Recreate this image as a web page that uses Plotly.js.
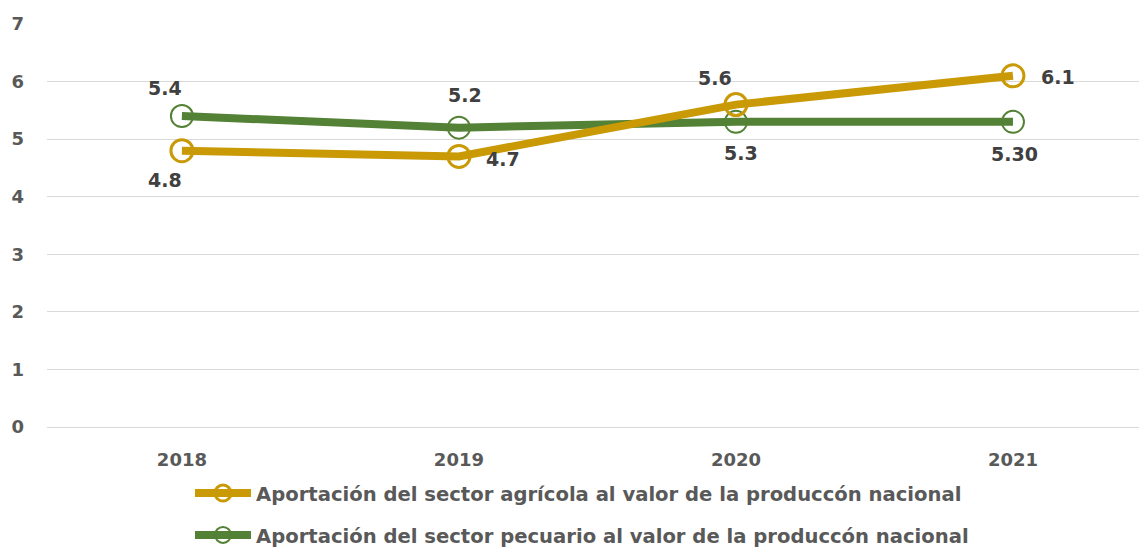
<!DOCTYPE html>
<html>
<head>
<meta charset="utf-8">
<script src="https://cdn.plot.ly/plotly-3.0.1.min.js"></script>
<style>html,body{margin:0;padding:0;background:#fff;}#chart{width:1139px;height:550px;}</style>
</head>
<body>
<div id="chart"></div>
<script>
const years = ["2018", "2019", "2020", "2021"];
const agricola = [4.8, 4.7, 5.6, 6.1];
const pecuario = [5.4, 5.2, 5.3, 5.3];
const agricolaLabels = ["4.8", "4.7", "5.6", "6.1"];
const pecuarioLabels = ["5.4", "5.2", "5.3", "5.30"];
const seriesNames = [
  "Aportación del sector agrícola al valor de la produccón nacional",
  "Aportación del sector pecuario al valor de la produccón nacional"
];
const yTicks = [0, 1, 2, 3, 4, 5, 6, 7];

const gold = "#C99A06";
const green = "#538135";
const FONT = "DejaVu Sans, sans-serif";

const agrShift = [[-17, -29], [44, -3], [-21, 27], [45, -1]];
const pecShift = [[-17, 28], [6, 33], [5, -31], [2, -32]];

const traces = [
  {
    x: years, y: pecuario, name: seriesNames[1], type: "scatter", mode: "lines+markers",
    line: {color: green, width: 8},
    marker: {symbol: "circle-open", size: 22, color: green, line: {width: 2, color: green}},
    legend: "legend2"
  },
  {
    x: years, y: agricola, name: seriesNames[0], type: "scatter", mode: "lines+markers",
    line: {color: gold, width: 8},
    marker: {symbol: "circle-open", size: 22, color: gold, line: {width: 3, color: gold}},
    legend: "legend"
  }
];

const labelFont = {family: FONT, size: 19, color: "#404040", weight: 700};
const annotations = [];
years.forEach((yr, i) => {
  annotations.push({xref: "x", yref: "y", x: i, y: agricola[i], text: agricolaLabels[i], showarrow: false,
    xanchor: "center", yanchor: "middle",
    xshift: agrShift[i][0], yshift: agrShift[i][1], font: labelFont});
  annotations.push({xref: "x", yref: "y", x: i, y: pecuario[i], text: pecuarioLabels[i], showarrow: false,
    xanchor: "center", yanchor: "middle",
    xshift: pecShift[i][0], yshift: pecShift[i][1], font: labelFont});
});

const legendFont = {family: FONT, size: 19.6, color: "#595959", weight: 700};

const layout = {
  width: 1139, height: 550,
  margin: {l: 47, r: 0, t: 24, b: 123},
  paper_bgcolor: "#fff", plot_bgcolor: "#fff",
  xaxis: {
    type: "category", range: [-0.487, 3.455],
    showgrid: false, zeroline: false, showline: false, ticks: "",
    tickfont: {family: FONT, size: 18, color: "#595959", weight: 700},
    ticklabelstandoff: 20
  },
  yaxis: {
    range: [0, 7], tickvals: yTicks, ticktext: yTicks.map(String),
    showgrid: true, gridcolor: "#d9d9d9", gridwidth: 1,
    zeroline: true, zerolinecolor: "#d9d9d9", zerolinewidth: 1,
    showline: false, ticks: "",
    tickfont: {family: FONT, size: 18, color: "#595959", weight: 700},
    ticklabelstandoff: 22
  },
  legend: {
    xref: "container", yref: "container",
    x: 0.1668, y: 0.103, xanchor: "left", yanchor: "middle", orientation: "h",
    itemwidth: 56, font: legendFont, bgcolor: "rgba(0,0,0,0)"
  },
  legend2: {
    xref: "container", yref: "container",
    x: 0.1668, y: 0.027, xanchor: "left", yanchor: "middle", orientation: "h",
    itemwidth: 56, font: legendFont, bgcolor: "rgba(0,0,0,0)"
  },
  annotations: annotations,
  showlegend: true
};

Plotly.newPlot("chart", traces, layout, {displayModeBar: false, staticPlot: true});
</script>
</body>
</html>
